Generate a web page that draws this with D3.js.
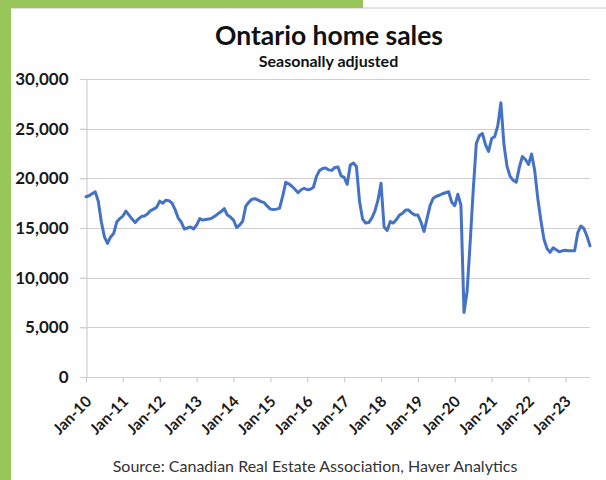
<!DOCTYPE html>
<html>
<head>
<meta charset="utf-8">
<script src="https://cdn.jsdelivr.net/npm/d3@7/dist/d3.min.js"></script>
<style>
  html, body { margin: 0; padding: 0; background: #fff; }
  svg { display: block; }
  text { font-family: Lato, "Open Sans", sans-serif; }
</style>
</head>
<body>
<svg id="chart" width="606" height="480"></svg>
<script>
// Ontario home sales, monthly, seasonally adjusted (Jan 2010 – Sep 2023)
const startMonth = "2010-01";
const monthCount = 165;

const sales2010 = [18150, 18250, 18450, 18650, 17700, 15600, 14100, 13450, 14100, 14450, 15600, 15950];
const sales2011 = [16200, 16700, 16300, 15900, 15550, 15900, 16150, 16200, 16400, 16750, 16900, 17100];
const sales2012 = [17700, 17500, 17800, 17750, 17500, 16850, 16000, 15600, 14900, 15000, 15100, 14900];
const sales2013 = [15300, 15950, 15800, 15850, 15900, 16000, 16200, 16450, 16650, 16950, 16300, 16100];
const sales2014 = [15800, 15050, 15300, 15700, 17200, 17600, 17900, 17950, 17800, 17650, 17550, 17200];
const sales2015 = [16900, 16850, 16900, 17000, 18200, 19600, 19450, 19200, 18900, 18550, 18850, 19000];
const sales2016 = [18850, 18900, 19100, 20200, 20800, 21000, 21050, 20850, 20800, 21100, 21150, 20250];
const sales2017 = [20100, 19400, 21350, 21550, 21200, 17700, 15900, 15500, 15550, 16000, 16700, 17800];
const sales2018 = [19500, 15100, 14750, 15650, 15500, 15850, 16300, 16480, 16800, 16800, 16500, 16300];
const sales2019 = [16300, 15600, 14650, 16000, 17300, 18000, 18200, 18300, 18450, 18550, 18650, 17600];
const sales2020 = [17250, 18400, 17300, 6500, 8600, 13500, 18800, 23500, 24300, 24500, 23400, 22700];
const sales2021 = [24000, 24200, 25300, 27600, 23400, 21200, 20200, 19800, 19600, 21100, 22200, 21900];
const sales2022 = [21400, 22450, 20800, 18000, 15800, 13900, 12950, 12550, 13000, 12800, 12600, 12700];
const sales2023 = [12750, 12700, 12700, 12700, 14500, 15200, 14950, 14200, 13200];

const sales = [].concat(sales2010, sales2011, sales2012, sales2013, sales2014, sales2015,
  sales2016, sales2017, sales2018, sales2019, sales2020, sales2021, sales2022, sales2023);

const yTicks = [0, 5000, 10000, 15000, 20000, 25000, 30000];
const xTickLabels = ["Jan-10", "Jan-11", "Jan-12", "Jan-13", "Jan-14", "Jan-15", "Jan-16",
  "Jan-17", "Jan-18", "Jan-19", "Jan-20", "Jan-21", "Jan-22", "Jan-23"];

const titleText = "Ontario home sales";
const subtitleText = "Seasonally adjusted";
const sourceText = "Source: Canadian Real Estate Association, Haver Analytics";

// month keys for the category axis
const parseMonth = d3.timeParse("%Y-%m");
const fmtKey = d3.timeFormat("%Y-%m");
const months = d3.timeMonth.range(parseMonth(startMonth),
  d3.timeMonth.offset(parseMonth(startMonth), monthCount)).map(fmtKey);
const data = months.map((m, i) => ({ month: m, value: sales[i] }));
const janKeys = months.filter(m => m.endsWith("-01"));

const svg = d3.select("#chart");
const W = 606, H = 480;

// frame: green band on top and left, white panel
svg.append("rect").attr("x", 0).attr("y", 0).attr("width", W).attr("height", H).attr("fill", "#ffffff");
svg.append("rect").attr("x", 0).attr("y", 0).attr("width", 363).attr("height", 8).attr("fill", "#97c65a");
svg.append("rect").attr("x", 0).attr("y", 0).attr("width", 11).attr("height", H).attr("fill", "#97c65a");
svg.append("line").attr("x1", 363).attr("x2", W).attr("y1", 8).attr("y2", 8)
  .attr("stroke", "#c8c8c8").attr("stroke-width", 1);
svg.append("line").attr("x1", 11).attr("x2", 363).attr("y1", 8.5).attr("y2", 8.5)
  .attr("stroke", "#e6dede").attr("stroke-width", 1);

const plot = { left: 86, right: 590, top: 79, bottom: 377 };

const x = d3.scalePoint().domain(months).range([plot.left, plot.right]);
const y = d3.scaleLinear().domain([0, 30000]).range([plot.bottom, plot.top]);

// gridlines
svg.append("g")
  .selectAll("line")
  .data(yTicks.filter(t => t > 0))
  .join("line")
  .attr("x1", plot.left - 6).attr("x2", plot.right)
  .attr("y1", d => Math.round(y(d)) + 0.5).attr("y2", d => Math.round(y(d)) + 0.5)
  .attr("stroke", "#cfcfcf").attr("stroke-width", 1.2);

// y axis
const yAxis = svg.append("g")
  .attr("transform", `translate(${plot.left + 0.5},0)`)
  .call(d3.axisLeft(y).tickValues(yTicks).tickSize(6).tickPadding(12).tickFormat(d3.format(",")));
yAxis.select(".domain").attr("stroke", "#cfcfcf").attr("stroke-width", 1.2);
yAxis.selectAll(".tick line").attr("stroke", "#cfcfcf").attr("stroke-width", 1.2);
yAxis.selectAll(".tick text")
  .attr("fill", "#1a1a1a").style("font-size", "17px").style("font-weight", "700");

// x axis
const xAxis = svg.append("g")
  .attr("transform", `translate(0,${plot.bottom + 0.5})`)
  .call(d3.axisBottom(x).tickValues(janKeys).tickSize(5).tickSizeOuter(0)
    .tickFormat((d, i) => xTickLabels[i]));
xAxis.select(".domain").attr("stroke", "#cfcfcf").attr("stroke-width", 1.2)
  .attr("d", `M${plot.left},0H${plot.right}`);
xAxis.selectAll(".tick line").attr("stroke", "#cfcfcf").attr("stroke-width", 1.2);
xAxis.selectAll(".tick text")
  .attr("fill", "#1a1a1a").style("font-size", "15.5px").style("font-weight", "700")
  .attr("text-anchor", "end")
  .attr("dy", null).attr("y", null)
  .attr("transform", "translate(6,25) rotate(-45)");

// series line
svg.append("path")
  .datum(data)
  .attr("fill", "none")
  .attr("stroke", "#4472c4")
  .attr("stroke-width", 3)
  .attr("stroke-linejoin", "round")
  .attr("stroke-linecap", "round")
  .attr("d", d3.line().x(d => x(d.month)).y(d => y(d.value)));

// titles
svg.append("text").attr("x", 329).attr("y", 45).attr("text-anchor", "middle")
  .attr("fill", "#111").style("font-size", "26.5px").style("font-weight", "700").text(titleText);
svg.append("text").attr("x", 328.5).attr("y", 66.5).attr("text-anchor", "middle")
  .attr("fill", "#111").style("font-size", "16px").style("font-weight", "700").text(subtitleText);

// source note
svg.append("text").attr("x", 315).attr("y", 472).attr("text-anchor", "middle")
  .attr("fill", "#333").style("font-size", "16px").text(sourceText);
</script>
</body>
</html>
